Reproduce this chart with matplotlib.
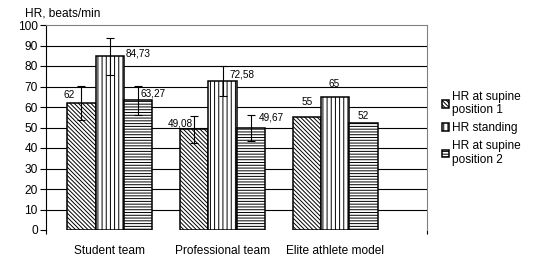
import numpy as np
import matplotlib
matplotlib.use("Agg")
import matplotlib.pyplot as plt

# ---- data ----
categories = ["Student team", "Professional team", "Elite athlete model"]
series_names = ["HR at supine\nposition 1", "HR standing", "HR at supine\nposition 2"]
supine1 = [62, 49.08, 55]
standing = [84.73, 72.58, 65]
supine2 = [63.27, 49.67, 52]
err_supine1 = [8.1, 6.4, np.nan]
err_standing = [9.1, 7.2, np.nan]
err_supine2 = [7.0, 6.2, np.nan]
label_supine1 = ["62", "49,08", "55"]
label_standing = ["84,73", "72,58", "65"]
label_supine2 = ["63,27", "49,67", "52"]
y_ticks = list(range(0, 101, 10))
y_label = "HR, beats/min"

# ---- styles / positions ----
hatches = ["\\\\\\\\\\\\\\\\", "||||", "------"]
# label offsets in pixels relative to (bar centre, bar top)
off_supine1 = [(-12, 8), (-14, 6), (0, 15)]
off_standing = [(28, 3), (20, 7), (-1, 13)]
off_supine2 = [(15, 7), (20, 11), (0, 7)]

plt.rcParams["font.family"] = ["Liberation Sans", "DejaVu Sans"]
plt.rcParams["hatch.linewidth"] = 0.7

W, H = 541, 276
fig = plt.figure(figsize=(W / 100, H / 100), dpi=100)
L, R, T, B = 46, 427, 25, 230
ax = fig.add_axes([L / W, (H - B) / H, (R - L) / W, (B - T) / H])

x = np.arange(len(categories))
width = 0.251
series = [supine1, standing, supine2]
errs = [err_supine1, err_standing, err_supine2]
labels = [label_supine1, label_standing, label_supine2]
offs = [off_supine1, off_standing, off_supine2]

handles = []
for i, (vals, er, lab, off, hat, name) in enumerate(zip(series, errs, labels, offs, hatches, series_names)):
    xs = x + (i - 1) * width
    bars = ax.bar(xs, vals, width, facecolor="white", edgecolor="black",
                  linewidth=1.1, hatch=hat, zorder=2, label=name)
    handles.append(bars)
    er_arr = np.array(er, dtype=float)
    mask = ~np.isnan(er_arr)
    ax.errorbar(xs[mask], np.array(vals)[mask], yerr=er_arr[mask], fmt="none",
                ecolor="black", elinewidth=0.8, capsize=2.6, capthick=0.8, zorder=3)
    for xi, v, t, (dx, dy) in zip(xs, vals, lab, off):
        ax.annotate(t, (xi, v), xytext=(dx, dy), textcoords="offset pixels",
                    ha="center", va="center", fontsize=7.2, color="black", zorder=4)

ax.set_xlim(-0.565, 2.813)
ax.set_ylim(0, 100)
ax.set_yticks(y_ticks)
ax.set_yticklabels([str(v) for v in y_ticks], fontsize=8.6)
for v in y_ticks[1:-1]:
    ax.axhline(v, color="black", linewidth=0.8, zorder=1)

ax.set_xticks(x)
ax.set_xticklabels(categories, fontsize=8.6)
ax.tick_params(axis="x", which="major", length=0, pad=11)
ax.set_xticks([-0.565, 2.813], minor=True)
ax.tick_params(axis="x", which="minor", length=3, width=0.8, color="black", direction="out")
ax.tick_params(axis="y", length=4, width=0.8, pad=2, direction="out")

ax.spines["left"].set_color("black")
ax.spines["left"].set_linewidth(0.8)
ax.spines["bottom"].set_visible(False)
for s in ["top", "right"]:
    ax.spines[s].set_color("#808080")
    ax.spines[s].set_linewidth(0.8)

fig.text(25 / W, 1 - 13.5 / H, y_label, fontsize=8.6, ha="left", va="center")

leg = fig.legend(handles=handles, loc="upper left",
                 bbox_to_anchor=(442 / W, 1 - 91 / H), frameon=False,
                 fontsize=8.6, handlelength=0.55, handleheight=0.55,
                 handletextpad=0.25, labelspacing=0.5, borderpad=0, borderaxespad=0)
for t in leg.get_texts():
    t.set_linespacing(1.15)

fig.savefig("out.png", dpi=100)
